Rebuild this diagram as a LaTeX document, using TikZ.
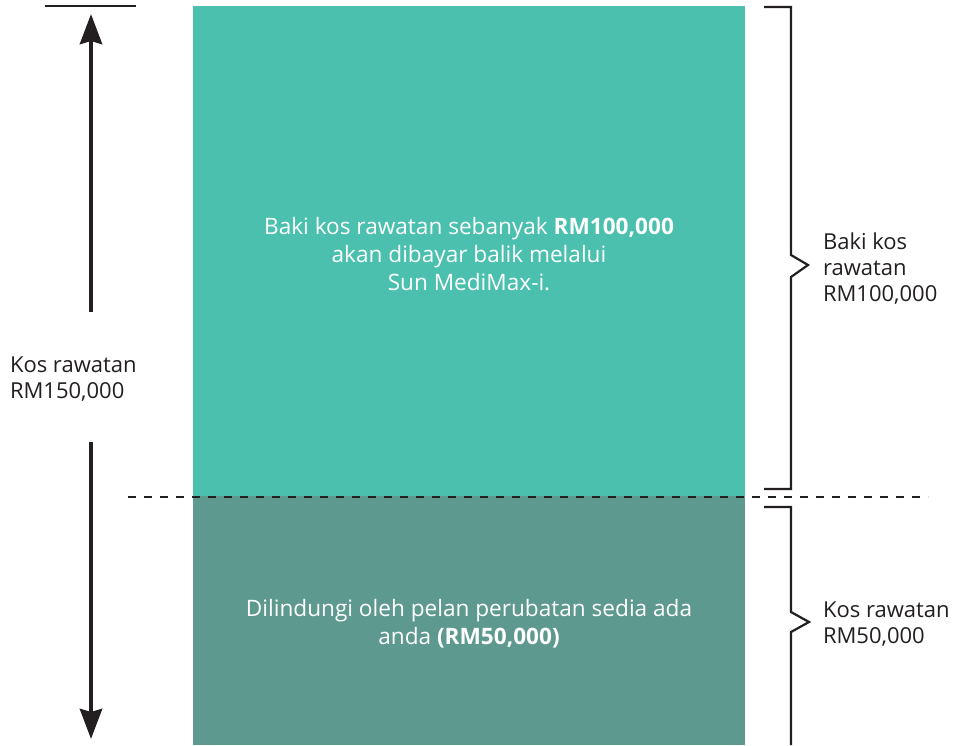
\documentclass[tikz,border=0pt]{standalone}
\usepackage{fontspec}
\setmainfont{Open Sans}
\usetikzlibrary{arrows.meta}
\definecolor{tealtop}{HTML}{4BC0AE}
\definecolor{tealbottom}{HTML}{5E9990}
\definecolor{inkdark}{HTML}{231F20}

\begin{document}
\begin{tikzpicture}[x=1pt,y=-1pt]
         \tikzset{every node/.style={inner sep=0pt,outer sep=0pt}}
         \tikzset{panel/.style={minimum width=552pt,anchor=north west}}
         \tikzset{paneltext/.style={text=white,align=center,font=\fontsize{22.6}{28}\selectfont}}
         \tikzset{sidetext/.style={text=inkdark,align=left,anchor=west,font=\fontsize{22}{26}\selectfont}}
         \tikzset{bracket/.style={draw=inkdark,line width=2.2pt}}
         \tikzset{bigarrow/.style={draw=inkdark,line width=4.5pt,-{Stealth[length=30pt,width=22pt,inset=3pt]}}}
         \useasboundingbox (0,0) rectangle (955,745);
         % the two parts of the cost
         \node (upper) [panel,fill=tealtop,minimum height=490pt] at (193,6) {};
         \node (lower) [panel,fill=tealbottom,minimum height=249pt] at (193,496) {};
         \node (uppertext) [paneltext] at (469,254)
            {Baki kos rawatan sebanyak \textbf{RM100,000}\\akan dibayar balik melalui\\Sun MediMax-i.};
         \node (lowertext) [paneltext] at (469,624)
            {Dilindungi oleh pelan perubatan sedia ada\\anda \textbf{(RM50,000)}};
         % total cost on the left
         \coordinate (tickleft) at (45,6);
         \coordinate (tickright) at (136,6);
         \draw[inkdark,line width=2.5pt] (tickleft) -- (tickright);
         \node (total) [sidetext] at (10,379) {Kos rawatan\\RM150,000};
         \coordinate (uptip) at (91,14);
         \coordinate (downtip) at (91,739);
         \draw[bigarrow] (91,312) -- (uptip);
         \draw[bigarrow] (91,442) -- (downtip);
         % split line
         \coordinate (splitl) at (128,497);
         \coordinate (splitr) at (928,497);
         \draw[inkdark,line width=1.2pt,dash pattern=on 8pt off 8pt] (splitl) -- (splitr);
         % braces on the right
         \draw[bracket] (764,7) -- (791,7) -- (791,255) -- (808,265) -- (791,277) -- (791,489) -- (764,489);
         \draw[bracket] (764,507) -- (791,507) -- (791,612) -- (809,622) -- (791,632) -- (791,745);
         \node (uppercost) [sidetext] at (823,269) {Baki kos\\rawatan\\RM100,000};
         \node (lowercost) [sidetext] at (823,624) {Kos rawatan\\RM50,000};
\end{tikzpicture}
\end{document}
